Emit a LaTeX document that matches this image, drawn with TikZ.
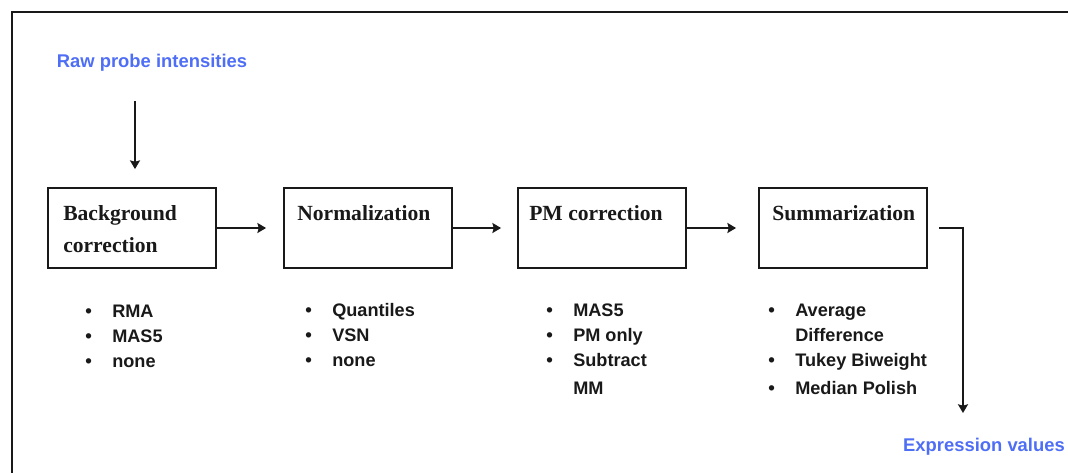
\documentclass[tikz,border=0pt]{standalone}
\usepackage{fontspec}
\setmainfont{Liberation Serif}
\newfontfamily\arialf{Liberation Sans}
\usetikzlibrary{arrows.meta}
\definecolor{rawblue}{RGB}{78,110,245}
\definecolor{inkc}{RGB}{25,25,25}
\tikzset{
  stagebox/.style={draw=inkc, line width=1.4pt, minimum width=126pt, minimum height=60pt, inner sep=0pt},
  stagetitle/.style={font=\fontsize{16.2}{24}\selectfont\bfseries, text=inkc, anchor=base west, inner sep=0pt},
  itemtxt/.style={font=\arialf\bfseries\fontsize{13.6}{16}\selectfont, text=inkc, anchor=base west, inner sep=0pt},
  bul/.style={font=\arialf\bfseries\fontsize{14}{16}\selectfont, text=inkc, anchor=base west, inner sep=0pt},
  bluelabel/.style={font=\arialf\bfseries\fontsize{13.8}{16}\selectfont, text=rawblue, inner sep=0pt},
  arr/.style={draw=inkc, line width=1.4pt, -{Stealth[length=6.5pt,width=7.5pt,inset=1pt]}},
}
\begin{document}
\begin{tikzpicture}[x=0.75pt,y=-0.75pt]
\useasboundingbox (0,0) rectangle (1068,472);
% frame
\draw[line width=1.5pt, draw=inkc] (12,480) -- (12,12) -- (1080,12);
% label top
\node[bluelabel] (raw) at (152,63) {Raw probe intensities};
\coordinate (rawstart) at (135,101);
% boxes
\node[stagebox] (b1) at (132,228) {};
\node[stagebox] (b2) at (368,228) {};
\node[stagebox] (b3) at (602,228) {};
\node[stagebox] (b4) at (843,228) {};
% titles
\node[stagetitle] (t1) at (63,220) {Background};
\node[stagetitle] (t1b) at (63,252) {correction};
\node[stagetitle] (t2) at (297,220) {Normalization};
\node[stagetitle] (t3) at (529,220) {PM correction};
\node[stagetitle] (t4) at (772,220) {Summarization};
% arrows
\draw[arr, shorten >=13.5pt] (rawstart) -- (rawstart |- b1.north);
\draw[arr, shorten >=12.75pt] (b1) -- (b2);
\draw[arr, shorten >=12pt] (b2) -- (b3);
\draw[arr, shorten >=16.5pt] (b3) -- (b4);
\coordinate (evtip) at (963,413);
\draw[arr, shorten <=8.25pt] (b4.east) -| (evtip);
\node[bluelabel] (ev) at (984,447) {Expression values};
% lists box1
\node[bul] (l1a) at (85,317) {•};
\node[bul] (l1b) at (85,342) {•};
\node[bul] (l1c) at (85,367) {•};
\node[itemtxt] (i1a) at (112,317) {RMA};
\node[itemtxt] (i1b) at (112,342) {MAS5};
\node[itemtxt] (i1c) at (112,367) {none};
% lists box2
\node[bul] (l2a) at (305,316) {•};
\node[bul] (l2b) at (305,341) {•};
\node[bul] (l2c) at (305,366) {•};
\node[itemtxt] (i2a) at (332,316) {Quantiles};
\node[itemtxt] (i2b) at (332,341) {VSN};
\node[itemtxt] (i2c) at (332,366) {none};
% lists box3
\node[bul] (l3a) at (546,316) {•};
\node[bul] (l3b) at (546,341) {•};
\node[bul] (l3c) at (546,366) {•};
\node[itemtxt] (i3a) at (573,316) {MAS5};
\node[itemtxt] (i3b) at (573,341) {PM only};
\node[itemtxt] (i3c) at (573,366) {Subtract};
\node[itemtxt] (i3d) at (573,394) {MM};
% lists box4
\node[bul] (l4a) at (768,316) {•};
\node[bul] (l4c) at (768,366) {•};
\node[bul] (l4d) at (768,394) {•};
\node[itemtxt] (i4a) at (795,316) {Average};
\node[itemtxt] (i4b) at (795,341) {Difference};
\node[itemtxt] (i4c) at (795,366) {Tukey Biweight};
\node[itemtxt] (i4d) at (795,394) {Median Polish};
\end{tikzpicture}
\end{document}
